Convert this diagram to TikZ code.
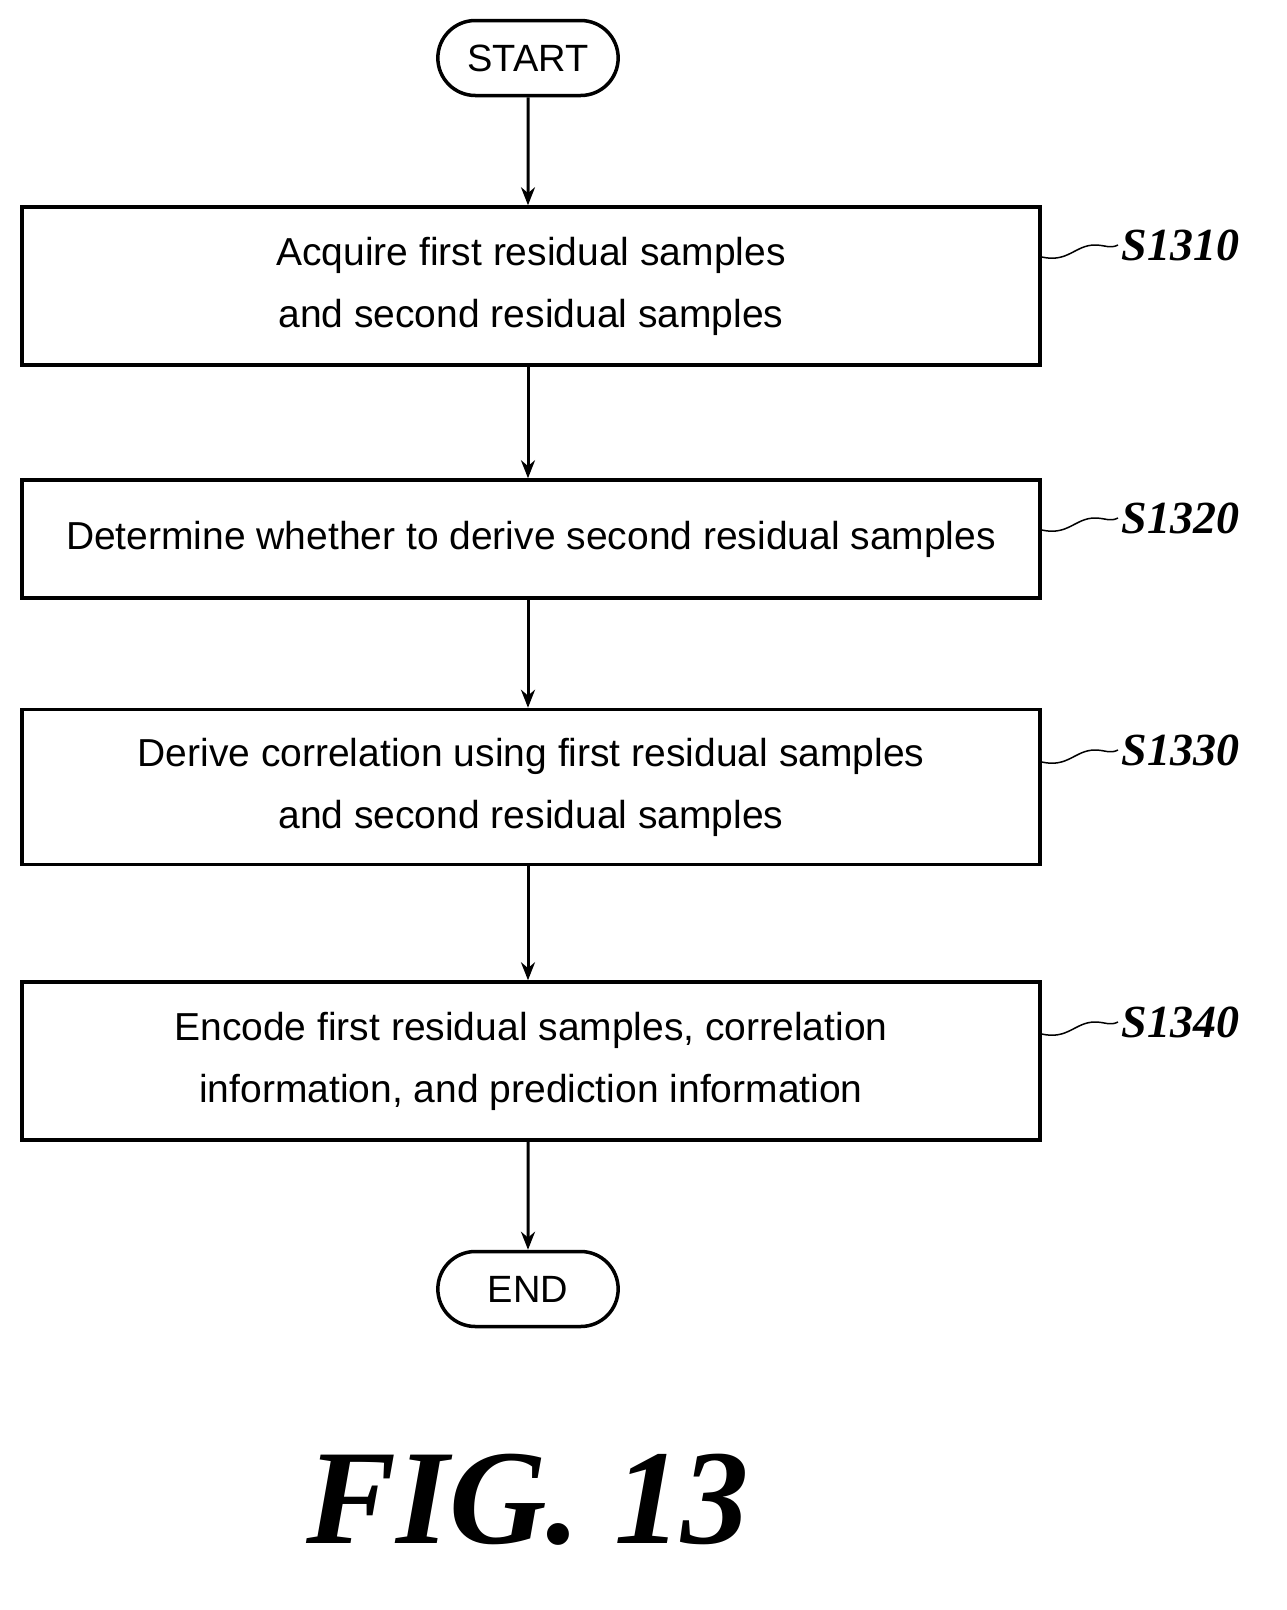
\documentclass[tikz,border=0pt]{standalone}
\usepackage{fontspec}
\setmainfont{Liberation Sans}
\newfontfamily\lblfont{Liberation Serif}
\usetikzlibrary{shapes.misc,arrows.meta}
\begin{document}
\begin{tikzpicture}[x=1pt,y=-1pt,
  box/.style={draw,line width=3.5pt,minimum width=1018pt,align=center,font=\fontsize{39}{62}\selectfont,inner sep=0pt},
  term/.style={draw,line width=3.5pt,rounded rectangle,minimum width=187pt,minimum height=75pt,font=\fontsize{38}{44}\selectfont},
  arr/.style={line width=3pt,-{Stealth[length=18pt,width=14pt]}},
  lbl/.style={font=\lblfont\fontsize{46}{50}\selectfont\bfseries\itshape,anchor=west},
  sq/.style={line width=1.5pt}]
\useasboundingbox (0,0) rectangle (1287,1610);
\node[term] (start) at (528,58) {START};
\node[box,minimum height=158pt] (b1) at (531,286) {Acquire first residual samples\\and second residual samples};
\node[box,minimum height=118pt] (b2) at (531,539) {Determine whether to derive second residual samples};
\node[box,minimum height=155pt] (b3) at (531,787) {Derive correlation using first residual samples\\and second residual samples};
\node[box,minimum height=158pt] (b4) at (531,1061) {Encode first residual samples, correlation\\information, and prediction information};
\node[term] (end) at (528,1289) {END};
\draw[arr] (start) -- (start|-b1.north);
\draw[arr] (b1.south-|start) -- (start|-b2.north);
\draw[arr] (b2.south-|start) -- (start|-b3.north);
\draw[arr] (b3.south-|start) -- (start|-b4.north);
\draw[arr] (b4.south-|start) -- (end);
\foreach \b/\t/\y in {b1/S1310/245,b2/S1320/518,b3/S1330/750,b4/S1340/1022}{
  \node[lbl] (l\t) at (1118,\y) {\t};
  \draw[sq] (\b.east|-0,\y+12) .. controls (1068,\y+18) and (1075,\y) .. (1095,\y) .. controls (1105,\y) and (1110,\y+4) .. (l\t.west);
}
\node[font=\fontsize{135}{140}\selectfont\lblfont\bfseries\itshape] (fig) at (528,1500) {FIG. 13};
\end{tikzpicture}
\end{document}
